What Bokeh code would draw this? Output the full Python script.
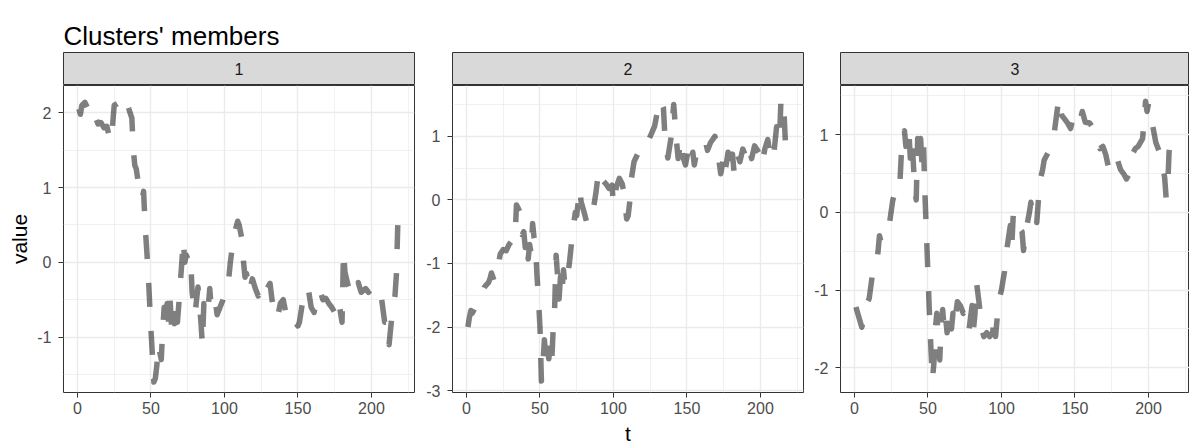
from bokeh.plotting import figure
from bokeh.layouts import row, column
from bokeh.models import FixedTicker, Label, Range1d
from bokeh.embed import file_html
from bokeh.resources import INLINE

FONT = "Liberation Sans"

title_text = "Clusters' members"
clusters = ["1", "2", "3"]
x_label = "t"
y_label = "value"

x_ticks = [0, 50, 100, 150, 200]
x_minor = [25, 75, 125, 175, 225]
y_ticks = [[-1, 0, 1, 2], [-3, -2, -1, 0, 1], [-2, -1, 0, 1]]
y_minor = [[-1.5, -0.5, 0.5, 1.5], [-2.5, -1.5, -0.5, 0.5, 1.5], [-1.5, -0.5, 0.5, 1.5]]

# cluster 1
t1 = [1, 2, 3, 5, 6, 8, 10, 12, 14, 16, 18, 20, 22, 23, 25, 27, 29, 31, 33, 35,
      37, 38, 39, 40, 42, 43, 44, 45, 46, 47, 48, 49, 50, 51, 52, 53, 54, 55, 57, 58,
      59, 60, 61, 62, 63, 64, 65, 66, 67, 68, 69, 70, 71, 72, 73, 74, 75, 76, 77, 78,
      79, 80, 81, 82, 83, 84, 85, 86, 87, 88, 89, 90, 91, 92, 94, 95, 97, 99, 101, 103,
      104, 106, 107, 109, 110, 111, 112, 113, 114, 115, 117, 119, 121, 123, 125, 127, 129, 131, 133, 135,
      136, 138, 140, 142, 144, 146, 148, 150, 151, 153, 155, 157, 159, 161, 163, 165, 167, 169, 171, 173,
      175, 177, 178, 180, 181, 182, 184, 186, 187, 189, 191, 193, 196, 198, 200, 203, 205, 207, 209, 211,
      212, 214, 216, 217, 218]
v1 = [2.05, 1.98, 2.1, 2.14, 2.1, 2.02, 2.08, 1.95, 1.85, 1.87, 1.8, 1.82, 1.65, 1.62, 2.1, 2.12, 2.15, 2.1, 2.18, 2.05,
      1.93, 1.5, 1.3, 1.25, 0.98, 0.88, 0.85, 0.95, 0.5, 0.2, -0.1, -0.5, -0.9, -1.24, -1.6, -1.55, -1.38, -1.1, -1.3, -0.9,
      -0.6, -0.85, -0.55, -0.8, -0.5, -0.85, -0.6, -0.82, -0.55, -0.8, -0.55, -0.27, 0.0, 0.3, 0.0, 0.1, 0.05, 0.0, 0.05, -0.4,
      -0.55, -0.7, -0.5, -0.33, -0.55, -0.8, -1.1, -0.55, -0.6, -0.7, -0.6, -0.35, -0.6, -0.5, -0.55, -0.7, -0.6, -0.5, -0.35, -0.2,
      0.0, 0.3, 0.4, 0.55, 0.5, 0.4, 0.3, 0.0, -0.2, -0.15, -0.4, -0.22, -0.35, -0.45, -0.26, -0.3, -0.35, -0.28, -0.6, -0.7,
      -0.75, -0.55, -0.5, -0.7, -0.65, -0.75, -0.8, -0.85, -0.8, -0.55, -0.35, -0.35, -0.6, -0.67, -0.45, -0.38, -0.5, -0.48, -0.55, -0.6,
      -0.67, -0.5, -0.55, -0.8, 0.15, -0.13, -0.3, -0.4, -0.45, -0.35, -0.27, -0.4, -0.35, -0.4, -0.35, -0.5, -0.45, -0.5, -0.8, -0.8,
      -1.1, -0.7, -0.45, -0.16, 0.55]

# cluster 2
t2 = [1, 2, 3, 4, 6, 8, 10, 12, 13, 15, 16, 17, 19, 21, 23, 25, 27, 29, 31, 33,
      34, 35, 37, 38, 39, 40, 41, 42, 43, 44, 45, 46, 47, 48, 49, 50, 51, 52, 53, 54,
      55, 56, 57, 58, 59, 60, 61, 62, 63, 64, 65, 66, 67, 69, 70, 72, 74, 75, 77, 78,
      80, 82, 84, 86, 88, 90, 91, 93, 95, 97, 99, 100, 102, 104, 106, 107, 109, 110, 111, 112,
      114, 117, 119, 120, 122, 124, 126, 128, 130, 132, 134, 135, 136, 137, 139, 141, 142, 143, 144, 146,
      147, 149, 151, 152, 154, 155, 157, 159, 161, 163, 164, 166, 169, 171, 173, 175, 176, 178, 179, 181,
      182, 184, 186, 188, 190, 192, 194, 196, 198, 200, 201, 203, 205, 207, 209, 211, 213, 214, 216, 217,
      218]
v2 = [-2.0, -1.85, -1.74, -1.78, -1.69, -1.55, -1.5, -1.38, -1.35, -1.3, -1.24, -1.15, -1.28, -1.11, -0.85, -0.78, -0.8, -0.7, -0.64, -0.65,
      -0.08, -0.12, -0.22, -0.55, -0.5, -0.75, -0.6, -0.93, -0.7, -0.85, -0.37, -0.6, -0.72, -1.2, -1.56, -2.0, -2.85, -2.6, -2.2, -2.45,
      -2.25, -2.5, -2.3, -2.55, -2.03, -1.69, -0.87, -1.2, -1.56, -1.2, -1.45, -1.1, -1.35, -1.15, -1.0, -0.56, -0.2, -0.25, 0.18, -0.03,
      -0.19, -0.37, -0.2, -0.19, 0.1, 0.47, 0.36, 0.3, 0.25, 0.18, 0.23, -0.08, 0.2, 0.34, 0.25, 0.13, -0.3, -0.25, -0.05, 0.3,
      0.6, 0.75, 0.73, 0.85, 0.91, 0.95, 1.05, 1.16, 1.4, 1.58, 1.45, 1.0, 0.8, 0.66, 0.95, 1.5, 1.2, 0.9, 0.65, 0.95,
      0.7, 0.55, 0.8, 0.6, 0.75, 0.55, 0.8, 0.9, 0.93, 0.88, 0.78, 0.9, 1.0, 0.75, 0.41, 0.68, 0.45, 0.75, 0.42, 0.72,
      0.45, 0.75, 0.6, 0.8, 0.68, 0.85, 0.65, 0.85, 0.78, 0.7, 0.55, 0.8, 0.95, 0.62, 0.7, 1.15, 0.95, 1.6, 1.4, 0.9,
      0.58]

# cluster 3
t3 = [1, 3, 5, 7, 9, 10, 12, 14, 16, 17, 18, 20, 22, 24, 26, 28, 29, 31, 32, 33,
      34, 35, 36, 37, 38, 39, 40, 41, 42, 43, 44, 45, 46, 47, 48, 49, 50, 51, 52, 53,
      54, 55, 56, 57, 58, 59, 60, 61, 62, 63, 64, 65, 66, 67, 68, 70, 72, 74, 76, 78,
      79, 80, 81, 82, 83, 84, 85, 86, 88, 90, 92, 94, 95, 96, 98, 100, 102, 104, 106, 107,
      108, 110, 112, 114, 115, 117, 119, 120, 121, 122, 124, 126, 128, 129, 132, 134, 136, 139, 141, 143,
      145, 147, 149, 151, 153, 155, 157, 160, 163, 165, 167, 169, 171, 173, 175, 177, 179, 181, 183, 185,
      187, 189, 191, 193, 196, 198, 199, 200, 201, 203, 205, 207, 209, 211, 212, 213, 214, 216]
v3 = [-1.22, -1.35, -1.48, -1.3, -1.15, -1.11, -0.83, -0.75, -0.51, -0.3, -0.38, -0.3, -0.2, -0.12, 0.15, 0.3, 0.27, 0.41, 0.8, 1.0,
      1.05, 0.85, 1.1, 1.05, 0.7, 0.95, 0.65, 0.3, 0.16, 0.95, 0.75, 0.95, 0.6, 0.85, 0.2, -0.3, -0.8, -1.3, -1.75, -2.16,
      -1.95, -1.5, -1.3, -1.65, -1.9, -1.45, -1.25, -1.5, -1.35, -1.55, -1.25, -1.45, -1.5, -1.3, -1.45, -1.15, -1.2, -1.3, -1.25, -1.5,
      -1.35, -1.2, -1.5, -1.3, -0.9, -1.05, -1.2, -1.45, -1.6, -1.55, -1.6, -1.55, -1.35, -1.6, -1.15, -1.0, -0.77, -0.43, -0.17, -0.43,
      -0.04, 0.0, -0.2, -0.25, -0.49, -0.2, 0.0, 0.13, 0.0, 0.05, -0.13, 0.39, 0.55, 0.67, 0.78, 0.95, 1.04, 1.47, 1.25, 1.2,
      1.15, 1.08, 1.25, 1.2, 1.15, 1.3, 1.16, 1.15, 1.06, 0.95, 0.82, 0.85, 0.74, 0.56, 0.7, 0.65, 0.67, 0.55, 0.5, 0.43,
      0.5, 0.75, 0.82, 0.85, 0.95, 1.43, 1.3, 1.4, 1.2, 1.1, 0.9, 0.8, 0.66, 0.45, 0.19, 0.3, 0.78, 1.05]

series_t = [t1, t2, t3]
series_v = [v1, v2, v3]

# layout / scale settings (pixels and axis limits)
y_limits = [(-1.74, 2.365), (-3.03, 1.80), (-2.32, 1.634)]
x_limits = [(-9.5, 229.3), (-9.5, 229.3), (-9.5, 227.9)]
fig_widths = [418, 389, 382]
border_left = [63, 34, 33]
border_right = [4, 4, 0]
FRAME_H = 307
BOTTOM = 51
XLAB_H = 21
STRIP_H = 33
TITLE_H = 52


def blank(w, h, left=0, right=0):
    f = figure(width=w, height=h, x_range=Range1d(0, 1), y_range=Range1d(0, 1),
               x_axis_type=None, y_axis_type=None, output_backend="svg", toolbar_location=None,
               min_border_left=left, min_border_right=right, min_border_top=0, min_border_bottom=0)
    f.border_fill_color = "white"
    return f


columns = []
for i in range(3):
    w = fig_widths[i]
    s = blank(w, STRIP_H, border_left[i], border_right[i])
    s.background_fill_color = "#D9D9D9"
    s.outline_line_color = "#333333"
    s.outline_line_width = 1
    s.add_layout(Label(x=0.5, y=0.5, text=clusters[i], text_align="center", text_baseline="middle",
                       text_font=FONT, text_font_size="16px", text_color="#1A1A1A"))

    xr = x_limits[i]
    yr = y_limits[i]
    bottom = BOTTOM - XLAB_H if i == 1 else BOTTOM
    p = figure(width=w, height=FRAME_H + bottom, x_range=Range1d(*xr), y_range=Range1d(*yr),
               output_backend="svg", toolbar_location=None,
               min_border_left=border_left[i], min_border_right=border_right[i],
               min_border_top=0, min_border_bottom=bottom)
    p.background_fill_color = "white"
    p.border_fill_color = "white"
    p.outline_line_color = "#333333"
    p.outline_line_width = 1
    p.xaxis.ticker = FixedTicker(ticks=x_ticks, minor_ticks=x_minor)
    p.yaxis.ticker = FixedTicker(ticks=y_ticks[i], minor_ticks=y_minor[i])
    p.yaxis.major_label_overrides = {tk: str(tk) for tk in y_ticks[i]}
    p.axis.axis_line_color = None
    p.axis.major_tick_line_color = "#333333"
    p.axis.major_tick_line_width = 1
    p.axis.major_tick_out = 5
    p.axis.major_tick_in = 0
    p.axis.minor_tick_line_color = None
    p.axis.major_label_text_font = FONT
    p.axis.major_label_text_font_size = "16px"
    p.axis.major_label_text_color = "#4D4D4D"
    p.xaxis.major_label_standoff = 4
    p.yaxis.major_label_standoff = 7
    p.grid.grid_line_color = "#EBEBEB"
    p.grid.grid_line_width = 1.4
    p.grid.minor_grid_line_color = "#EBEBEB"
    p.grid.minor_grid_line_width = 0.7

    p.line(x=series_t[i], y=series_v[i], line_color="black", line_alpha=0.5, line_width=5.5,
           line_dash="24 24", line_join="round", line_cap="butt")

    if i == 0:
        p.yaxis.axis_label = y_label
        p.yaxis.axis_label_standoff = 3
        p.yaxis.axis_label_text_font = FONT
        p.yaxis.axis_label_text_font_size = "21px"
        p.yaxis.axis_label_text_font_style = "normal"
        p.yaxis.axis_label_text_color = "black"

    kids = [s, p]
    if i == 1:
        tl = blank(w, XLAB_H, border_left[i], border_right[i])
        tl.outline_line_color = None
        tl.background_fill_color = "white"
        tl.add_layout(Label(x=0.5, y=0.5, text=x_label, text_align="center", text_baseline="middle",
                            text_font=FONT, text_font_size="21px", text_color="black"))
        kids.append(tl)
    columns.append(column(*kids))

total_w = sum(fig_widths)
tf = figure(width=total_w, height=TITLE_H, x_range=Range1d(0, total_w), y_range=Range1d(0, TITLE_H),
            x_axis_type=None, y_axis_type=None, output_backend="svg", toolbar_location=None,
            min_border=0)
tf.outline_line_color = None
tf.background_fill_color = "white"
tf.add_layout(Label(x=63, y=17, text=title_text, text_align="left", text_baseline="alphabetic",
                    text_font=FONT, text_font_size="26px", text_color="black"))

layout = column(tf, row(*columns))

open("out.html", "w").write(file_html(layout, INLINE))
